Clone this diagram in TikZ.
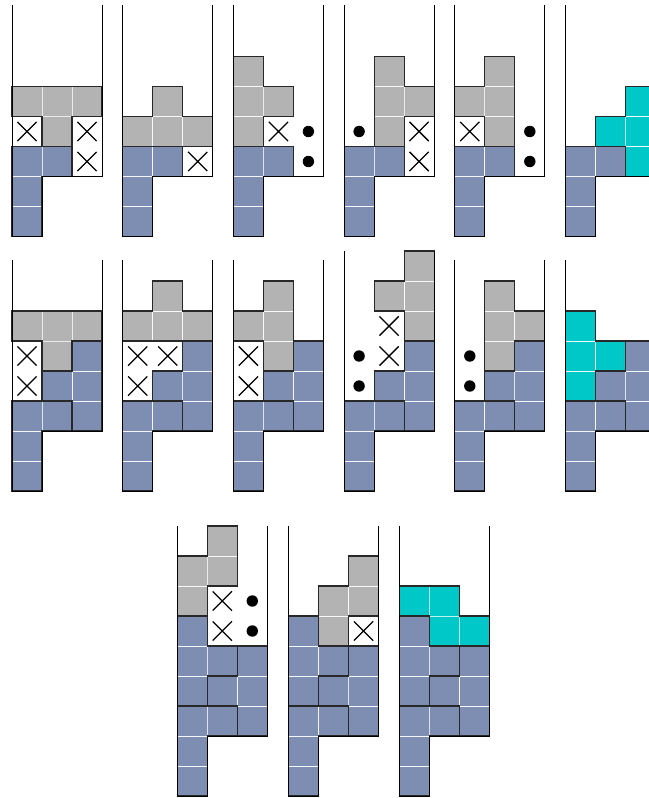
\documentclass[tikz,border=0pt]{standalone}
\usepackage{tikz}
\usetikzlibrary{calc}
\definecolor{stackblue}{RGB}{126,142,178}
\definecolor{fallgray}{RGB}{179,179,179}
\definecolor{landcyan}{RGB}{0,200,200}
\definecolor{edgegray}{RGB}{40,40,40}

% one piece: its cells, then its outline
\newcommand{\piece}[3]{%
  \foreach \c/\r in {#2} \filldraw[#1] (\c,\r) rectangle ++(1,1);
  \draw[outline] #3;}
\newcommand{\crosses}[1]{%
  \foreach \c/\r in {#1}
    \draw[cross] (\c+0.18,\r+0.18) -- (\c+0.82,\r+0.82) (\c+0.18,\r+0.82) -- (\c+0.82,\r+0.18);}
\newcommand{\blobs}[1]{\foreach \c/\r in {#1} \fill (\c+0.5,\r+0.5) circle (0.19);}
\newcommand{\well}[1]{\draw[wall] (0,#1) -- (0,0) -- (1,0) -- (1,2) -- (3,2) -- (3,#1);}

% the settled stack, in three stages
\newcommand{\stackA}{\piece{bl}{0/0,0/1,0/2,1/2}{(0,0) -- (1,0) -- (1,2) -- (2,2) -- (2,3) -- (0,3) -- cycle}}
\newcommand{\stackB}{\stackA
  \piece{bl}{2/2,2/3,2/4,1/3}{(2,2) -- (3,2) -- (3,5) -- (2,5) -- (2,4) -- (1,4) -- (1,3) -- (2,3) -- cycle}}
\newcommand{\stackC}{\stackB
  \piece{bl}{0/3,0/4,0/5,1/4}{(0,3) -- (1,3) -- (1,4) -- (2,4) -- (2,5) -- (1,5) -- (1,6) -- (0,6) -- cycle}}

\begin{document}
\begin{tikzpicture}[x=1cm, y=1cm]
\tikzset{
  cellbase/.style={draw=white, draw opacity=0.75, line width=0.6pt},
  bl/.style={cellbase, fill=stackblue},
  gr/.style={cellbase, fill=fallgray},
  cy/.style={cellbase, fill=landcyan},
  outline/.style={draw=edgegray, line width=1.1pt, line join=miter},
  wall/.style={draw=black, line width=0.8pt},
  cross/.style={draw=black, line width=1.2pt}
}
\clip (0,0) rectangle (21.633,-26.6);

% first row
\begin{scope}[shift={(0.4,-7.883)}]
  \stackA
  \piece{gr}{0/4,1/4,2/4,1/3}{(0,5) -- (3,5) -- (3,4) -- (2,4) -- (2,3) -- (1,3) -- (1,4) -- (0,4) -- cycle}
  \crosses{0/3,2/3,2/2}
  \well{7.7}
\end{scope}
\begin{scope}[shift={(4.09,-7.883)}]
  \stackA
  \piece{gr}{0/3,1/3,2/3,1/4}{(0,3) -- (3,3) -- (3,4) -- (2,4) -- (2,5) -- (1,5) -- (1,4) -- (0,4) -- cycle}
  \crosses{2/2}
  \well{7.7}
\end{scope}
\begin{scope}[shift={(7.78,-7.883)}]
  \stackA
  \piece{gr}{0/3,0/4,0/5,1/4}{(0,3) -- (1,3) -- (1,4) -- (2,4) -- (2,5) -- (1,5) -- (1,6) -- (0,6) -- cycle}
  \crosses{1/3}
  \blobs{2/3,2/2}
  \well{7.7}
\end{scope}
\begin{scope}[shift={(11.47,-7.883)}]
  \stackA
  \piece{gr}{1/3,1/4,1/5,2/4}{(1,3) -- (2,3) -- (2,4) -- (3,4) -- (3,5) -- (2,5) -- (2,6) -- (1,6) -- cycle}
  \crosses{2/3,2/2}
  \blobs{0/3}
  \well{7.7}
\end{scope}
\begin{scope}[shift={(15.16,-7.883)}]
  \stackA
  \piece{gr}{1/3,1/4,1/5,0/4}{(1,3) -- (2,3) -- (2,6) -- (1,6) -- (1,5) -- (0,5) -- (0,4) -- (1,4) -- cycle}
  \crosses{0/3}
  \blobs{2/3,2/2}
  \well{7.7}
\end{scope}
\begin{scope}[shift={(18.85,-7.883)}]
  \stackA
  \piece{cy}{2/2,2/3,2/4,1/3}{(2,2) -- (3,2) -- (3,5) -- (2,5) -- (2,4) -- (1,4) -- (1,3) -- (2,3) -- cycle}
  \well{7.7}
\end{scope}

% second row
\begin{scope}[shift={(0.4,-16.367)}]
  \stackB
  \piece{gr}{0/5,1/5,2/5,1/4}{(0,6) -- (3,6) -- (3,5) -- (2,5) -- (2,4) -- (1,4) -- (1,5) -- (0,5) -- cycle}
  \crosses{0/4,0/3}
  \well{7.7}
\end{scope}
\begin{scope}[shift={(4.09,-16.367)}]
  \stackB
  \piece{gr}{0/5,1/5,2/5,1/6}{(0,5) -- (3,5) -- (3,6) -- (2,6) -- (2,7) -- (1,7) -- (1,6) -- (0,6) -- cycle}
  \crosses{0/4,1/4,0/3}
  \well{7.7}
\end{scope}
\begin{scope}[shift={(7.78,-16.367)}]
  \stackB
  \piece{gr}{1/4,1/5,1/6,0/5}{(1,4) -- (2,4) -- (2,7) -- (1,7) -- (1,6) -- (0,6) -- (0,5) -- (1,5) -- cycle}
  \crosses{0/4,0/3}
  \well{7.7}
\end{scope}
\begin{scope}[shift={(11.47,-16.367)}]
  \stackB
  \piece{gr}{2/5,2/6,2/7,1/6}{(2,5) -- (3,5) -- (3,8) -- (2,8) -- (2,7) -- (1,7) -- (1,6) -- (2,6) -- cycle}
  \crosses{1/5,1/4}
  \blobs{0/4,0/3}
  \well{8}
\end{scope}
\begin{scope}[shift={(15.16,-16.367)}]
  \stackB
  \piece{gr}{1/4,1/5,1/6,2/5}{(1,4) -- (2,4) -- (2,5) -- (3,5) -- (3,6) -- (2,6) -- (2,7) -- (1,7) -- cycle}
  \blobs{0/4,0/3}
  \well{7.7}
\end{scope}
\begin{scope}[shift={(18.85,-16.367)}]
  \stackB
  \piece{cy}{0/3,0/4,0/5,1/4}{(0,3) -- (1,3) -- (1,4) -- (2,4) -- (2,5) -- (1,5) -- (1,6) -- (0,6) -- cycle}
  \well{7.7}
\end{scope}

% third row
\begin{scope}[shift={(5.91,-26.533)}]
  \stackC
  \piece{gr}{0/6,0/7,1/7,1/8}{(0,6) -- (1,6) -- (1,7) -- (2,7) -- (2,9) -- (1,9) -- (1,8) -- (0,8) -- cycle}
  \crosses{1/6,1/5}
  \blobs{2/6,2/5}
  \well{9}
\end{scope}
\begin{scope}[shift={(9.62,-26.533)}]
  \stackC
  \piece{gr}{1/5,1/6,2/6,2/7}{(1,5) -- (2,5) -- (2,6) -- (3,6) -- (3,8) -- (2,8) -- (2,7) -- (1,7) -- cycle}
  \crosses{2/5}
  \well{9}
\end{scope}
\begin{scope}[shift={(13.31,-26.533)}]
  \stackC
  \piece{cy}{0/6,1/6,1/5,2/5}{(0,6) -- (1,6) -- (1,5) -- (3,5) -- (3,6) -- (2,6) -- (2,7) -- (0,7) -- cycle}
  \well{9}
\end{scope}
\end{tikzpicture}
\end{document}
